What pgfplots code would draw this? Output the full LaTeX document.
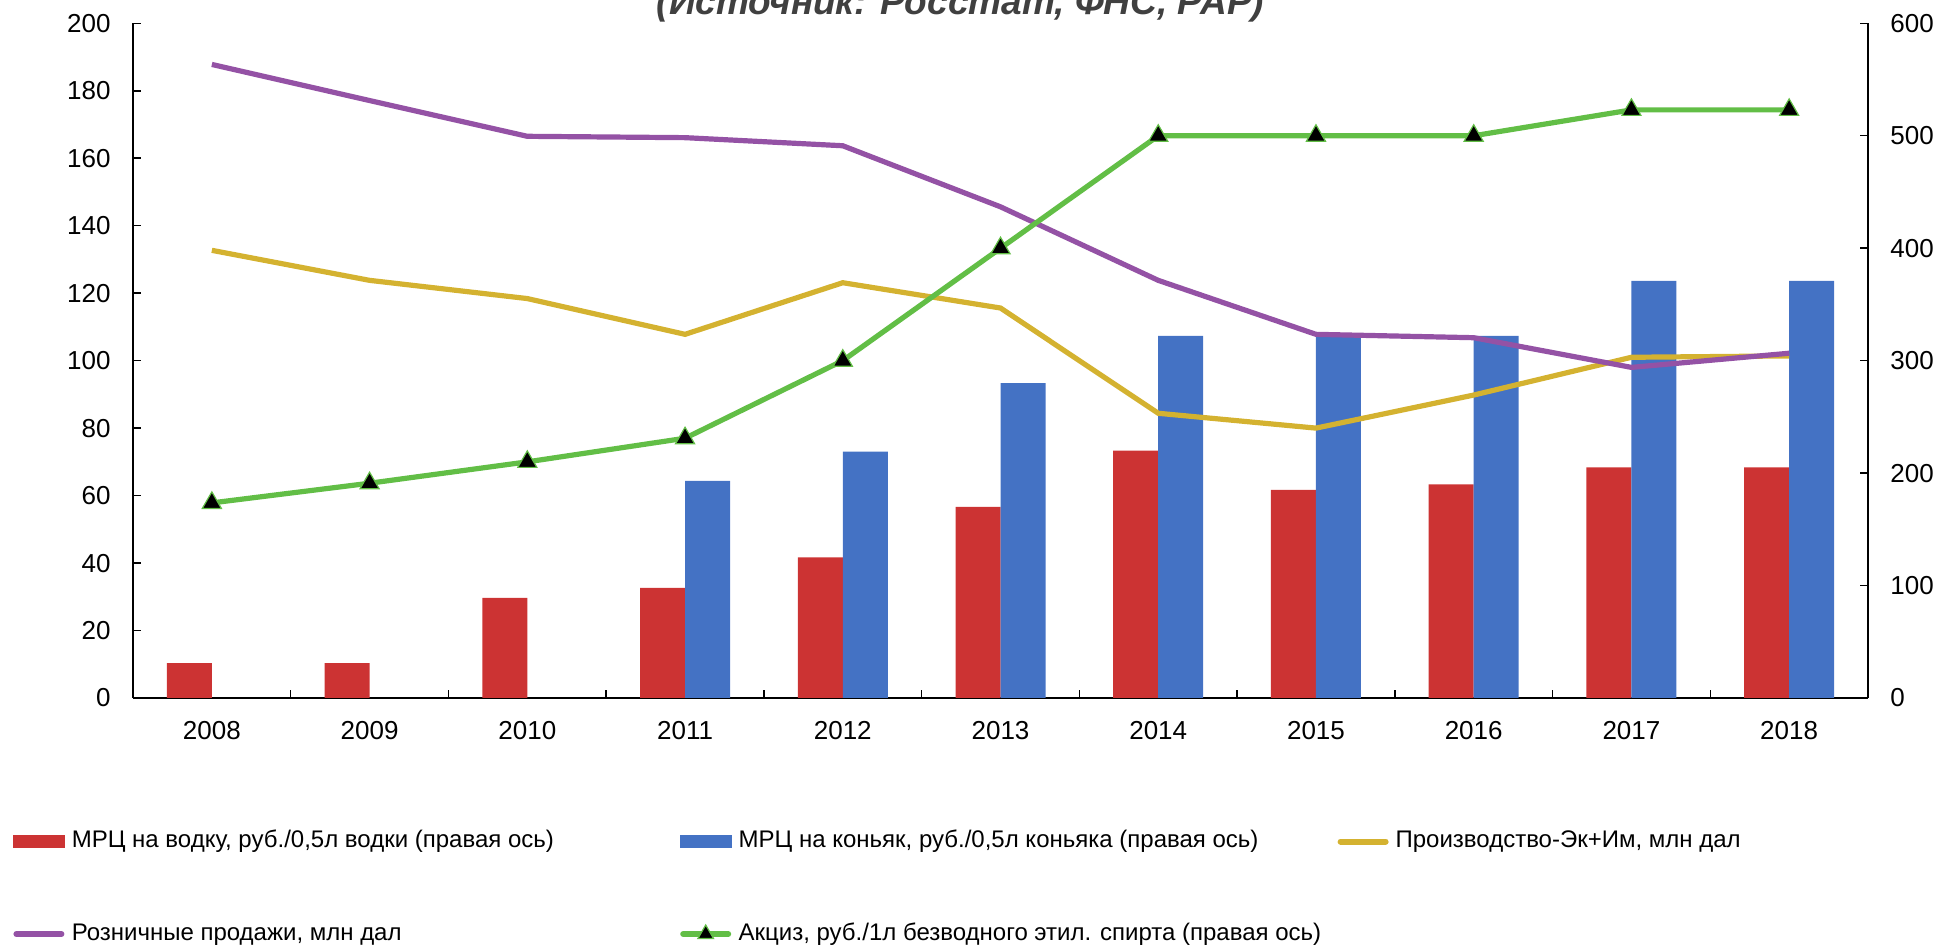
\documentclass[border=0pt]{standalone}
\usepackage{pgfplots}
\pgfplotsset{compat=1.18}
\usepackage{fontspec}
\setmainfont{Liberation Sans}
\definecolor{cred}{RGB}{204,51,51}
\definecolor{cblue}{RGB}{68,114,196}
\definecolor{cgold}{RGB}{212,178,48}
\definecolor{cpurple}{RGB}{148,82,165}
\definecolor{cgreen}{RGB}{98,190,70}
\definecolor{ctitle}{RGB}{64,64,64}
\pgfplotsset{
  base/.style={
    at={(66.5pt,124.5pt)}, anchor=south west,
    scale only axis, width=867.5pt, height=337.35pt,
    xmin=-0.5, xmax=10.5,
    tick align=inside,
    major tick length=4pt, minor tick length=4pt,
    tick style={black, line width=0.75pt},
    axis line style={black, line width=0.75pt},
    ticklabel style={font=\fontsize{13}{15}\selectfont},
    /pgf/number format/assume math mode=true,
    /pgf/number format/1000 sep={},
  },
}
\begin{document}
\begin{tikzpicture}
\useasboundingbox (0,0) rectangle (970.5pt,473.5pt);
% bars, right axis
\begin{axis}[base,
  ymin=0, ymax=600, ytick={0,100,...,600},
  axis y line*=right, axis x line*=bottom,
  yticklabel style={xshift=7.7pt},
  xtick={0,...,10},
  xticklabels={2008,2009,2010,2011,2012,2013,2014,2015,2016,2017,2018},
  xticklabel style={yshift=-8.1pt},
  minor xtick={0.5,1.5,...,9.5},
  every major x tick/.append style={draw=none},
]
\addplot[ybar, bar width=22.5pt, bar shift=-11.25pt, fill=cred, draw=none] coordinates {
 (0,31) (1,31) (2,89) (3,98) (4,125) (5,170) (6,220) (7,185) (8,190) (9,205) (10,205)};
\addplot[ybar, bar width=22.5pt, bar shift=11.25pt, fill=cblue, draw=none] coordinates {
 (3,193) (4,219) (5,280) (6,322) (7,322) (8,322) (9,371) (10,371)};
\end{axis}
% lines, left axis
\begin{axis}[base,
  ymin=0, ymax=200, ytick={0,20,...,200},
  axis y line*=left, axis x line=none,
  yticklabel style={xshift=-7.7pt},
]
\addplot[cgold, line width=2.6pt, mark=none] coordinates {
 (0,132.7) (1,123.8) (2,118.4) (3,107.8) (4,123.1) (5,115.6) (6,84.4) (7,80) (8,89.8) (9,101) (10,101.4)};
\addplot[cpurple, line width=2.6pt, mark=none] coordinates {
 (0,187.8) (1,177.1) (2,166.5) (3,166.1) (4,163.7) (5,145.6) (6,123.8) (7,107.8) (8,106.8) (9,98.0) (10,102.2)};
\end{axis}
% excise, right scale, with legend
\begin{axis}[base,
  ymin=0, ymax=600,
  hide axis, clip=false,
  legend columns=3,
  legend cell align=left,
  legend style={at={(-0.06916,-0.19639)}, anchor=north west,
    draw=none, fill=none, inner sep=0pt, outer sep=0pt,
    row sep=35.25pt, column sep=0pt,
    font=\fontsize{12}{14}\selectfont,
    nodes={inner sep=0pt, text height=8.5pt, text depth=2.5pt, anchor=west}},
]
\addlegendimage{legend image code/.code={\fill[cred] (0pt,-2.9pt) rectangle (25.5pt,2.9pt);}}
\addlegendentry{\makebox[307.5pt][l]{\hspace{3.5pt}МРЦ на водку, руб./0,5л водки (правая ось)}}
\addlegendimage{legend image code/.code={\fill[cblue] (0pt,-2.9pt) rectangle (25.5pt,2.9pt);}}
\addlegendentry{\makebox[303pt][l]{\hspace{3.5pt}МРЦ на коньяк, руб./0,5л коньяка (правая ось)}}
\addlegendimage{legend image code/.code={\draw[cgold, line width=3pt, line cap=round] (1.5pt,0pt) -- (24pt,0pt);}}
\addlegendentry{\hspace{3.5pt}Производство-Эк+Им, млн дал}
\addlegendimage{legend image code/.code={\draw[cpurple, line width=3pt, line cap=round] (1.5pt,0pt) -- (24pt,0pt);}}
\addlegendentry{\makebox[307.5pt][l]{\hspace{3.5pt}Розничные продажи, млн дал}}
\addplot[cgreen, line width=2.6pt, mark=triangle*, mark size=5.5pt,
  mark options={fill=black, draw=cgreen, line width=0.6pt},
  legend image code/.code={\draw[cgreen, line width=3pt, line cap=round] (1.5pt,0pt) -- (24pt,0pt);
    \path[mark=triangle*, mark size=4.5pt, mark options={fill=black, draw=cgreen, line width=0.6pt}] plot coordinates {(12.75pt,0pt)};}]
 coordinates {
 (0,173.5) (1,191) (2,210) (3,231) (4,300) (5,400) (6,500) (7,500) (8,500) (9,523) (10,523)};
\addlegendentry{\hspace{3.5pt}Акциз, руб./1л безводного этил. спирта (правая ось)}
\end{axis}
\node[anchor=base, font=\fontsize{18.5}{22}\selectfont\bfseries\itshape, text=ctitle, inner sep=0pt]
  at (480.2pt,466pt) {(Источник: Росстат, ФНС, РАР)};
\end{tikzpicture}
\end{document}
